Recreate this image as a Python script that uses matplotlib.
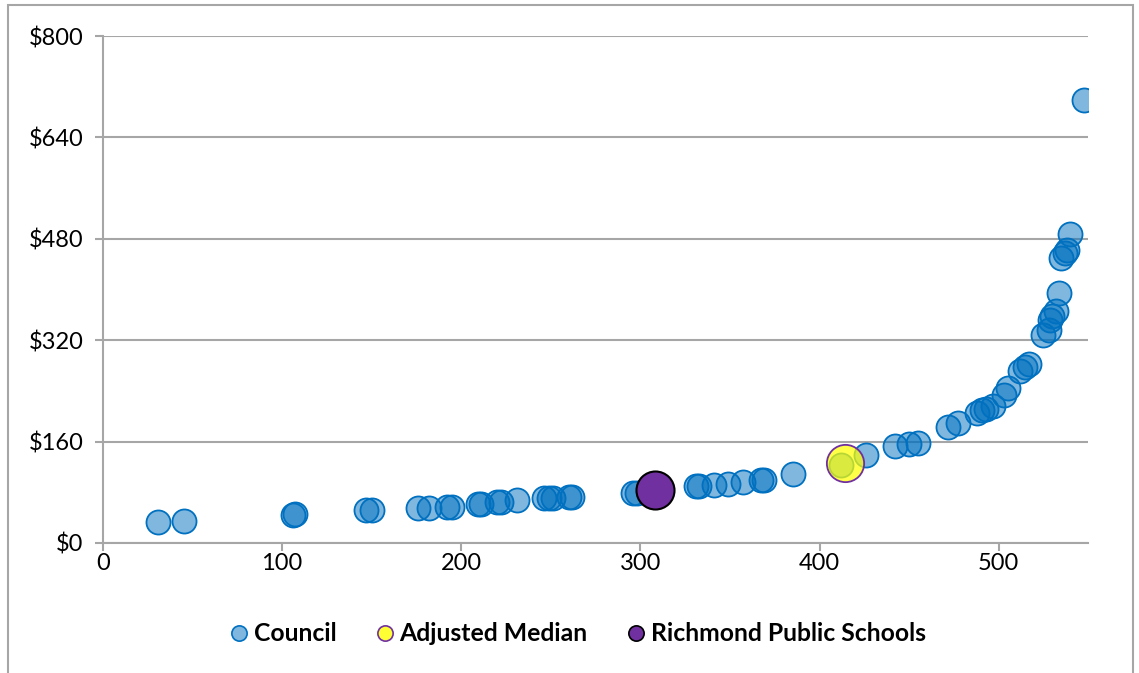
import matplotlib.pyplot as plt
from matplotlib.lines import Line2D
from matplotlib.patches import Rectangle
from matplotlib.ticker import FuncFormatter, MultipleLocator

plt.rcParams['font.family'] = ['Lato', 'DejaVu Sans']

# council members: x position vs. dollar amount
council_x = [31, 45, 106, 107, 147, 150, 176, 182, 192, 195,
             209.5, 211, 220, 222, 231, 246, 249, 251, 260, 262,
             296, 298, 331, 333, 341, 349, 357.5, 367.5, 369, 385,
             412, 426, 442, 450, 455, 471.5, 477.5, 488, 490.5, 493,
             497, 503, 505, 512, 514.5, 517, 525, 528, 528.5, 530,
             532, 533.5, 535, 537, 538, 539.7, 547.5]
council_y = [33, 35, 44, 46, 52, 52, 55, 55, 57, 57,
             61.5, 61.5, 65, 65, 68, 71, 71, 71, 72.5, 72.5,
             79, 79, 90, 90, 91.5, 93, 96, 99, 99, 109,
             123, 139, 153, 156, 158, 183, 189, 205, 210, 211,
             216, 233, 244, 271, 278, 282, 328, 336, 352, 358,
             366, 394, 450, 457, 462, 487, 699]

median_x = [414.5]
median_y = [126]

rps_x = [308]
rps_y = [84]

series_names = ['Council', 'Adjusted Median', 'Richmond Public Schools']

blue_fill = (0.0, 0.44, 0.75, 0.5)
yellow_fill = (1.0, 1.0, 0.0, 0.72)

fig = plt.figure(figsize=(11.39, 6.73), dpi=100)
ax = fig.add_axes([0.0904, 0.1932, 0.865, 0.7533])

ax.scatter(council_x, council_y, s=300, facecolors=blue_fill,
           edgecolors='#0070C0', linewidths=1.3, zorder=3)
ax.scatter(median_x, median_y, s=720, facecolors=yellow_fill,
           edgecolors='#7030A0', linewidths=1.3, zorder=4)
ax.scatter(rps_x, rps_y, s=750, facecolors='#7030A0',
           edgecolors='black', linewidths=1.5, zorder=5)

ax.set_xlim(0, 550)
ax.set_ylim(0, 800)
ax.xaxis.set_major_locator(MultipleLocator(100))
ax.yaxis.set_major_locator(MultipleLocator(160))
ax.yaxis.set_major_formatter(FuncFormatter(lambda v, p: '${:,.0f}'.format(v)))

ax.grid(axis='y', color='#A6A6A6', linewidth=1.5)
ax.set_axisbelow(True)
for side in ['top', 'right']:
    ax.spines[side].set_visible(False)
for side in ['left', 'bottom']:
    ax.spines[side].set_color('#A6A6A6')
    ax.spines[side].set_linewidth(1.5)
ax.tick_params(axis='both', colors='#A6A6A6', labelcolor='black',
               labelsize=17, length=6, width=1.5)
ax.tick_params(axis='y', pad=8)
ax.tick_params(axis='x', pad=1)

# legend markers all drawn the same size
handles = [
    Line2D([], [], linestyle='none', marker='o', markersize=11,
           markerfacecolor=blue_fill, markeredgecolor='#0070C0', markeredgewidth=1.2),
    Line2D([], [], linestyle='none', marker='o', markersize=11,
           markerfacecolor=(1.0, 1.0, 0.2), markeredgecolor='#7030A0', markeredgewidth=1.2),
    Line2D([], [], linestyle='none', marker='o', markersize=11,
           markerfacecolor='#7030A0', markeredgecolor='black', markeredgewidth=1.2),
]
fig.legend(handles, series_names, loc='center', bbox_to_anchor=(0.507, 0.058), ncol=3,
           frameon=False, handlelength=0.8, handletextpad=0.2,
           columnspacing=1.55, prop={'weight': 'bold', 'size': 17.8})

# outer chart frame
fig.patches.append(Rectangle((0.007, -0.05), 0.988, 1.043, transform=fig.transFigure,
                             fill=False, edgecolor='#A6A6A6', linewidth=1.5))

fig.savefig('out.png', dpi=100)
